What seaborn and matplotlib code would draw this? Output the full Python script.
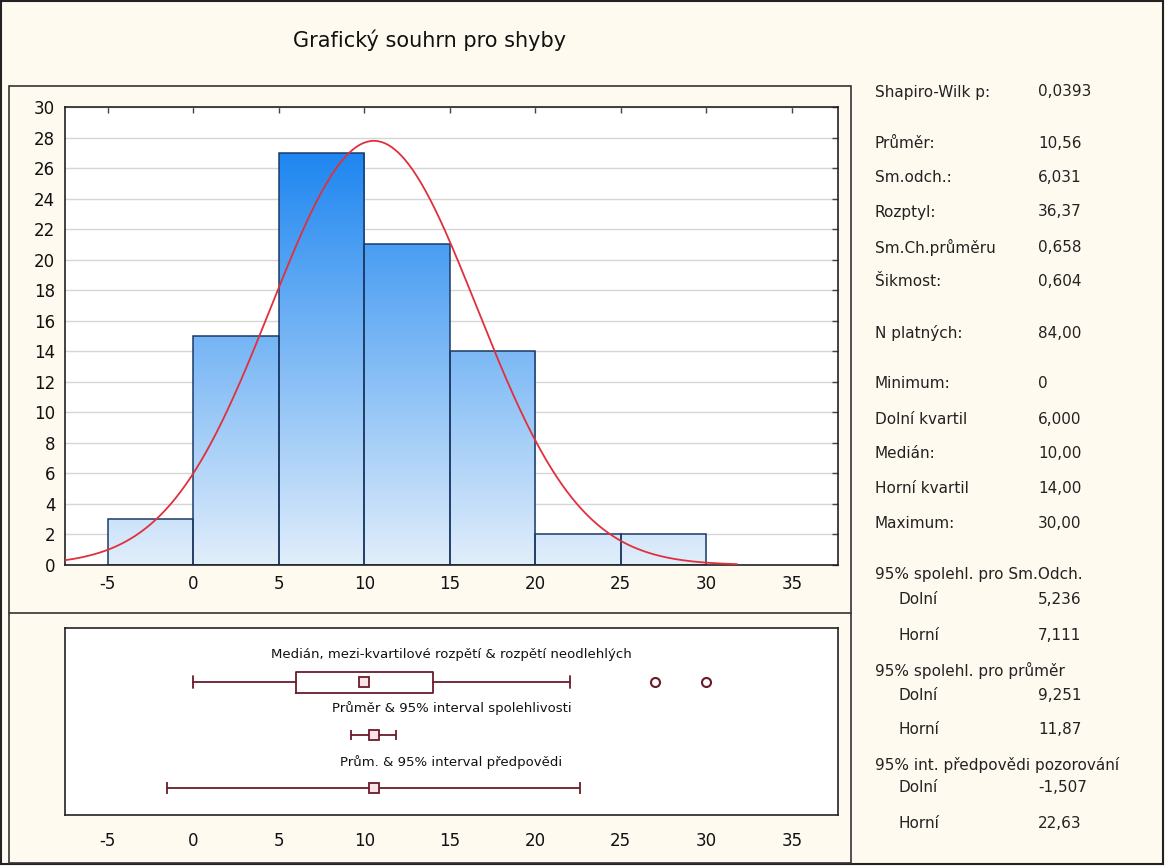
import numpy as np
import pandas as pd
import matplotlib
matplotlib.use("Agg")
import matplotlib.pyplot as plt
import seaborn as sns
from matplotlib.colors import LinearSegmentedColormap
from matplotlib.patches import Rectangle
from matplotlib.lines import Line2D

# ---------------- data ----------------
bin_edges = [-5, 0, 5, 10, 15, 20, 25, 30]
bin_counts = [3, 15, 27, 21, 14, 2, 2]
x_ticks = [-5, 0, 5, 10, 15, 20, 25, 30, 35]
y_ticks = list(range(0, 31, 2))

n_valid = 84
mean_val = 10.56
sd_val = 6.031
min_val = 0.0
q1_val = 6.0
median_val = 10.0
q3_val = 14.0
whisker_hi = 22.0
outlier_vals = [27, 30]
ci_mean = [9.251, 11.87]
pred_int = [-1.507, 22.63]

title_text = "Grafický souhrn pro shyby"
lower_labels = ["Medián, mezi-kvartilové rozpětí & rozpětí neodlehlých",
                "Průměr & 95% interval spolehlivosti",
                "Prům. & 95% interval předpovědi"]

summary_labels = ["Shapiro-Wilk p:", "Průměr:", "Sm.odch.:", "Rozptyl:",
                  "Sm.Ch.průměru", "Šikmost:", "N platných:", "Minimum:",
                  "Dolní kvartil", "Medián:", "Horní kvartil", "Maximum:",
                  "95% spolehl. pro Sm.Odch.", "Dolní", "Horní",
                  "95% spolehl. pro průměr", "Dolní", "Horní",
                  "95% int. předpovědi pozorování", "Dolní", "Horní"]
summary_values = ["0,0393", "10,56", "6,031", "36,37", "0,658", "0,604",
                  "84,00", "0", "6,000", "10,00", "14,00", "30,00",
                  "", "5,236", "7,111", "", "9,251", "11,87",
                  "", "-1,507", "22,63"]
summary_indent = [False] * 13 + [True, True, False, True, True, False, True, True]

# ---------------- layout ----------------
W, H = 1165, 866
row_y_px = [92, 143, 177, 212, 247, 282, 333, 384, 419, 453, 488, 523,
            575, 600, 635, 670, 696, 730, 765, 788, 823]

def fx(px):
    return px / W

def fy(py):
    return 1 - py / H

bg = "#FFFAEF"
maroon = "#6A1B2B"
curve_col = "#E0303C"
edge_col = "#1B3A66"

sns.set_style("white")
plt.rcParams["font.family"] = ["DejaVu Sans"]
plt.rcParams["axes.unicode_minus"] = False

fig = plt.figure(figsize=(W / 100, H / 100), dpi=100, facecolor=bg)

# outer border and panel frame
fig.add_artist(Rectangle((fx(1), fy(864)), fx(1162), 863 / H, transform=fig.transFigure,
                         fill=False, edgecolor="#222222", lw=1.5))
fig.add_artist(Rectangle((fx(9), fy(863)), fx(842), (863 - 86) / H, transform=fig.transFigure,
                         fill=False, edgecolor="#333333", lw=1.2))
fig.add_artist(Line2D([fx(9), fx(851)], [fy(613), fy(613)], transform=fig.transFigure,
                      color="#333333", lw=1.2))

fig.text(fx(430), fy(40), title_text, ha="center", va="center", fontsize=15, color="#111111")

# ---------------- histogram ----------------
ax = fig.add_axes([fx(65), fy(565), fx(838 - 65), (565 - 107) / H])
ax.set_facecolor("white")
centers = [(a + b) / 2 for a, b in zip(bin_edges[:-1], bin_edges[1:])]
hist_df = pd.DataFrame({"center": centers, "count": bin_counts})
sns.histplot(data=hist_df, x="center", weights="count", bins=bin_edges, ax=ax,
             stat="count", fill=True, color="#5AA8F5", edgecolor=edge_col, linewidth=1.1)

xlim = (-7.5, 37.7)
ylim = (0, 30)
cmap = LinearSegmentedColormap.from_list("bars", ["#E1EEFB", "#1E86F0"])
grad = np.linspace(0, 1, 256).reshape(-1, 1)
patches = list(ax.patches)
for p in patches:
    im = ax.imshow(grad, extent=[xlim[0], xlim[1], 0, max(bin_counts)], origin="lower",
                   cmap=cmap, aspect="auto", zorder=1.5)
    im.set_clip_path(p)
    p.set_facecolor("none")
    p.set_zorder(2)

xs = np.linspace(xlim[0], 31.8, 400)
bw = bin_edges[1] - bin_edges[0]
ys = n_valid * bw / (sd_val * np.sqrt(2 * np.pi)) * np.exp(-0.5 * ((xs - mean_val) / sd_val) ** 2)
sns.lineplot(x=xs, y=ys, ax=ax, color=curve_col, lw=1.3, zorder=3)

ax.set_xlim(*xlim)
ax.set_ylim(*ylim)
ax.set_xticks(x_ticks)
ax.set_yticks(y_ticks)
ax.set_xlabel("")
ax.set_ylabel("")
ax.yaxis.grid(True, color="#D6D6D6", lw=1)
ax.set_axisbelow(True)
ax.tick_params(direction="in", length=4, width=1, color="#444444", top=True, right=True,
               labelsize=12, labelcolor="#111111", pad=7)
for s in ax.spines.values():
    s.set_color("#222222")
    s.set_linewidth(1.2)

# ---------------- lower panel ----------------
ax2 = fig.add_axes([fx(65), fy(815), fx(838 - 65), (815 - 628) / H])
ax2.set_facecolor("white")
ax2.set_xlim(*xlim)
ax2.set_ylim(0, 1)
ax2.set_xticks(x_ticks)
ax2.set_yticks([])
ax2.tick_params(axis="x", length=0, labelsize=12, labelcolor="#111111", pad=12)
for s in ax2.spines.values():
    s.set_color("#222222")
    s.set_linewidth(1.2)

row_box, row_ci, row_pred = 0.711, 0.428, 0.144
lab_y = [0.856, 0.572, 0.283]

lp = dict(color=maroon, lw=1.3)
ax2.bxp([dict(med=median_val, q1=q1_val, q3=q3_val, whislo=min_val, whishi=whisker_hi,
              fliers=outlier_vals)],
        positions=[row_box], widths=0.112, orientation="horizontal", showfliers=True,
        boxprops=lp, whiskerprops=lp, capprops=lp, medianprops=dict(lw=0),
        flierprops=dict(marker="o", mfc="white", mec=maroon, ms=6.5, mew=1.5),
        capwidths=0.065, manage_ticks=False)
ax2.plot([median_val], [row_box], marker="s", ms=6.5, mfc="#FBE3E7", mec=maroon, mew=1.3,
         ls="none", zorder=4)

for (lo, hi), yrow, cs in [(ci_mean, row_ci, 3.5), (pred_int, row_pred, 4.5)]:
    ax2.errorbar([mean_val], [yrow], xerr=[[mean_val - lo], [hi - mean_val]], fmt="s",
                 ms=6.5, mfc="#FBE3E7", mec=maroon, mew=1.3, ecolor=maroon,
                 elinewidth=1.3, capsize=cs, capthick=1.3, zorder=4)

for txt, yy in zip(lower_labels, lab_y):
    ax2.text(0.5, yy, txt, transform=ax2.transAxes, ha="center", va="center",
             fontsize=9.5, color="#111111")

# ---------------- summary text ----------------
for lab, val, ind, ypx in zip(summary_labels, summary_values, summary_indent, row_y_px):
    fig.text(fx(898 if ind else 875), fy(ypx), lab, ha="left", va="center",
             fontsize=11, color="#222222")
    if val:
        fig.text(fx(1038), fy(ypx), val, ha="left", va="center",
                 fontsize=11, color="#222222")

fig.savefig("out.png", dpi=100, facecolor=bg)
